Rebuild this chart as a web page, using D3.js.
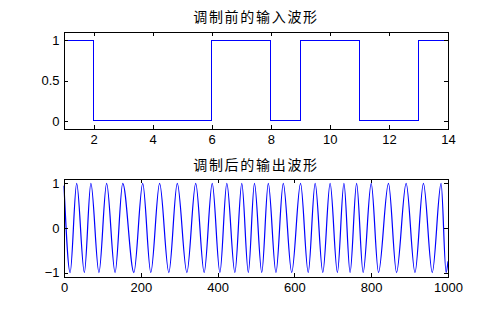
<!DOCTYPE html>
<html>
<head>
<meta charset="utf-8">
<script src="https://cdn.jsdelivr.net/npm/d3@7"></script>
<style>
  html, body { margin: 0; padding: 0; background: #fff; }
  svg { display: block; }
  .tick text { font-family: "Liberation Sans", Arial, sans-serif; font-size: 13px; fill: #000; }
  .title { font-family: "Noto Sans CJK SC", sans-serif; font-size: 14px; letter-spacing: 1.7px; fill: #000; }
</style>
</head>
<body>
<svg id="chart" width="494" height="311"></svg>
<script>
// Input bit stream (stairs plot), sampled at x = 1..14
const inputX = [1, 2, 3, 4, 5, 6, 7, 8, 9, 10, 11, 12, 13, 14];
const inputBits = [1, 0, 0, 0, 0, 1, 1, 0, 1, 1, 0, 0, 1, 0];

// Modulated output: successive peak / trough positions (sample index) and levels
const outputSample = [0, 16, 33, 53, 70, 91, 111, 133, 153, 182, 205, 226, 249, 273, 295, 320,
  343, 365, 386, 406, 424, 445, 463, 480, 496, 515, 532, 552, 571, 593, 616, 636,
  654, 674, 693, 712, 729, 745, 762, 779, 800, 819, 845, 866, 891, 914, 936, 959,
  982, 995, 1000];
const outputValue = [0.95, -1, 1, -1, 1, -1, 1, -1, 1, -1, 1, -1, 1, -1, 1, -1,
  1, -1, 1, -1, 1, -1, 1, -1, 1, -1, 1, -1, 1, -1, 1, -1,
  1, -1, 1, -1, 1, -1, 1, -1, 1, -1, 1, -1, 1, -1, 1, -1,
  1, -1, -0.75];

// Axis ticks
const topXTicks = [2, 4, 6, 8, 10, 12, 14];
const topYTicks = [0, 0.5, 1];
const botXTicks = [0, 200, 400, 600, 800, 1000];
const botYTicks = [-1, 0, 1];

const titles = ["调制前的输入波形", "调制后的输出波形"];

const svg = d3.select("#chart");
const left = 64, right = 448;
const tickLen = 4;
const plain = d3.format("");

function panel(cfg) {
  const x = d3.scaleLinear().domain(cfg.xDomain).range([left, right]);
  const y = d3.scaleLinear().domain(cfg.yDomain).range([cfg.bottom, cfg.top]);
  const g = svg.append("g");

  // data line, clipped to the axes box
  const clipId = "clip" + cfg.id;
  svg.append("clipPath").attr("id", clipId)
    .append("rect").attr("x", left - 1).attr("y", cfg.top - 1)
    .attr("width", right - left + 2).attr("height", cfg.bottom - cfg.top + 2);

  const line = d3.line().x(d => x(d[0])).y(d => y(d[1])).curve(cfg.curve);
  g.append("path")
    .attr("clip-path", `url(#${clipId})`)
    .attr("d", line(cfg.xs.map((v, i) => [v, cfg.ys[i]])))
    .attr("fill", "none")
    .attr("stroke", "#0000ff")
    .attr("stroke-width", cfg.lineWidth)
    .attr("shape-rendering", cfg.crisp ? "crispEdges" : "auto");

  // axes: inward ticks on all four sides
  const ax = (sel, axis, tr, labels) => {
    const a = sel.append("g").attr("transform", tr).call(axis);
    a.select(".domain").remove();
    a.selectAll("line").attr("stroke", "#000").attr("shape-rendering", "crispEdges");
    if (!labels) a.selectAll("text").remove();
    return a;
  };
  ax(g, d3.axisBottom(x).tickValues(cfg.xTicks).tickSize(-tickLen).tickPadding(6)
      .tickFormat(plain),
    `translate(0,${cfg.bottom})`, true);
  ax(g, d3.axisTop(x).tickValues(cfg.xTicks).tickSize(-tickLen).tickFormat(""),
    `translate(0,${cfg.top})`, false);
  ax(g, d3.axisLeft(y).tickValues(cfg.yTicks).tickSize(-tickLen).tickPadding(4.5)
      .tickFormat(plain),
    `translate(${left},0)`, true);
  ax(g, d3.axisRight(y).tickValues(cfg.yTicks).tickSize(-tickLen).tickFormat(""),
    `translate(${right},0)`, false);

  g.selectAll(".tick text").attr("font-family", null).attr("font-size", null);

  g.append("rect")
    .attr("x", left + 0.5).attr("y", cfg.top + 0.5)
    .attr("width", right - left - 0.5).attr("height", cfg.bottom - cfg.top - 0.5)
    .attr("fill", "none").attr("stroke", "#000").attr("stroke-width", 1)
    .attr("shape-rendering", "crispEdges");

  g.append("text")
    .attr("class", "title")
    .attr("x", (left + right) / 2)
    .attr("y", cfg.titleY)
    .attr("text-anchor", "middle")
    .attr("dominant-baseline", "central")
    .text(cfg.title);
}

panel({
  id: 1, xDomain: [1, 14], yDomain: [-0.1, 1.1], top: 32, bottom: 129,
  xs: inputX, ys: inputBits, curve: d3.curveStepAfter, crisp: true, lineWidth: 1,
  xTicks: topXTicks, yTicks: topYTicks, title: titles[0], titleY: 15.5
});

panel({
  id: 2, xDomain: [0, 1000], yDomain: [-1.1, 1.1], top: 179, bottom: 277,
  xs: outputSample, ys: outputValue, curve: d3.curveMonotoneX, crisp: false, lineWidth: 1.2,
  xTicks: botXTicks, yTicks: botYTicks, title: titles[1], titleY: 163.5
});
</script>
</body>
</html>
